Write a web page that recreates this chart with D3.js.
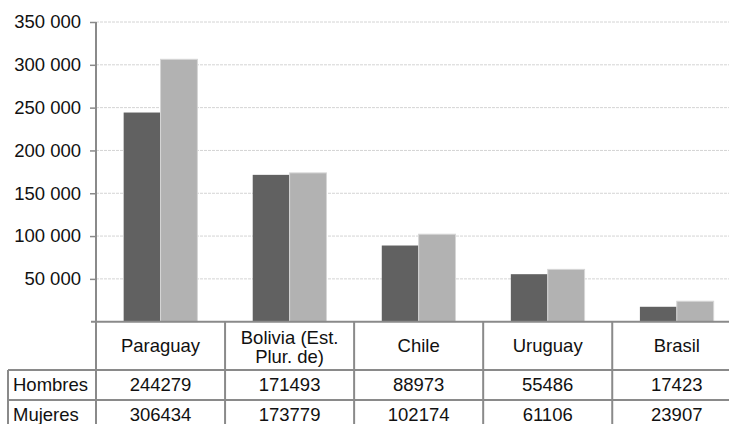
<!DOCTYPE html>
<html>
<head>
<meta charset="utf-8">
<script src="https://cdn.jsdelivr.net/npm/d3@7"></script>
<style>
html,body{margin:0;padding:0;background:#fff;overflow:hidden;}
svg{display:block;font-family:"Liberation Sans",Arial,sans-serif;}
</style>
</head>
<body>
<svg id="chart" width="729" height="424"></svg>
<script>
const categories = ["Paraguay", "Bolivia (Est.\nPlur. de)", "Chile", "Uruguay", "Brasil"];
const seriesNames = ["Hombres", "Mujeres"];
const hombres = [244279, 171493, 88973, 55486, 17423];
const mujeres = [306434, 173779, 102174, 61106, 23907];
const yTicks = [50000, 100000, 150000, 200000, 250000, 300000, 350000];
const yMax = 350000;

(function () {
const colors = {Hombres: "#616161", Mujeres: "#b2b2b2"};
const lineColor = "#8a8a8a";
const fs = 18.5;
const ff = "Liberation Sans, Arial, sans-serif";

const svg = d3.select("#chart");
const pLeft = 96, pRight = 741.3, pTop = 22, pBottom = 321.7;
const tableLeft = 8;
const rowY = [pBottom, 370, 400, 430];

const x = d3.scaleBand().domain(categories).range([pLeft, pRight]).paddingInner(0.4286).paddingOuter(0.2143);
const xs = d3.scaleBand().domain(seriesNames).range([0, x.bandwidth()]);
const y = d3.scaleLinear().domain([0, yMax]).range([pBottom, pTop]);
const cellBand = d3.scaleBand().domain(categories).range([pLeft, pRight]);

// gridlines
svg.append("g").selectAll("line").data(yTicks).join("line")
  .attr("x1", pLeft).attr("x2", pRight)
  .attr("y1", d => y(d)).attr("y2", d => y(d))
  .attr("stroke", "#d4d4d4").attr("stroke-width", 1)
  .attr("stroke-dasharray", "3,1");

// bars
const data = categories.map((c, i) => ({c, vals: [{s: "Hombres", v: hombres[i]}, {s: "Mujeres", v: mujeres[i]}]}));
const g = svg.append("g");
g.selectAll("g").data(data).join("g")
  .attr("transform", d => `translate(${x(d.c)},0)`)
  .selectAll("rect").data(d => d.vals).join("rect")
  .attr("x", d => xs(d.s)).attr("width", xs.bandwidth())
  .attr("y", d => y(d.v)).attr("height", d => y(0) - y(d.v))
  .attr("fill", d => colors[d.s])
  .attr("stroke", d => d.s === "Mujeres" ? "#d6d6d6" : "none")
  .attr("stroke-width", 1);

// y axis
const yAxis = d3.axisLeft(y).tickValues(yTicks).tickSize(6).tickPadding(9)
  .tickFormat(d => d3.format(",")(d).replace(/,/g, " "));
const ya = svg.append("g").attr("transform", `translate(${pLeft},0)`).call(yAxis);
ya.attr("font-family", ff);
ya.select(".domain").remove();
ya.selectAll(".tick line").attr("stroke", lineColor).attr("stroke-width", 1.5);
ya.selectAll(".tick text").attr("font-size", fs).attr("fill", "#111").attr("font-family", ff);
svg.append("line").attr("x1", pLeft).attr("x2", pLeft).attr("y1", pTop).attr("y2", rowY[3])
  .attr("stroke", lineColor).attr("stroke-width", 2);

// table lines
const tl = svg.append("g").attr("stroke", lineColor).attr("stroke-width", 2);
tl.append("line").attr("x1", pLeft - 5).attr("x2", pRight).attr("y1", rowY[0]).attr("y2", rowY[0]);
[rowY[1], rowY[2], rowY[3]].forEach(yy => {
  tl.append("line").attr("x1", tableLeft).attr("x2", pRight).attr("y1", yy).attr("y2", yy);
});
tl.append("line").attr("x1", tableLeft).attr("x2", tableLeft).attr("y1", rowY[1]).attr("y2", rowY[3]);
categories.forEach(c => {
  const xe = cellBand(c) + cellBand.bandwidth();
  tl.append("line").attr("x1", xe).attr("x2", xe).attr("y1", rowY[0]).attr("y2", rowY[3]);
});

// category labels
const tt = svg.append("g").attr("font-size", fs).attr("font-family", ff).attr("fill", "#111").attr("text-anchor", "middle");
categories.forEach(c => {
  const cx = cellBand(c) + cellBand.bandwidth() / 2;
  const lines = c.split("\n");
  const mid = (rowY[0] + rowY[1]) / 2;
  const lh = 19.5;
  const t = tt.append("text").attr("x", cx);
  lines.forEach((ln, k) => {
    t.append("tspan").attr("x", cx)
      .attr("y", mid + fs * 0.35 + (k - (lines.length - 1) / 2) * lh + (lines.length > 1 ? 1 : 0))
      .text(ln);
  });
});

// series rows
[hombres, mujeres].forEach((arr, r) => {
  const mid = (rowY[r + 1] + rowY[r + 2]) / 2;
  svg.append("text").attr("x", 13).attr("y", mid + fs * 0.35)
    .attr("font-size", fs).attr("font-family", ff).attr("fill", "#111").text(seriesNames[r]);
  arr.forEach((v, i) => {
    const c = categories[i];
    tt.append("text").attr("x", cellBand(c) + cellBand.bandwidth() / 2)
      .attr("y", mid + fs * 0.35).text(v);
  });
});
})();
</script>
</body>
</html>
